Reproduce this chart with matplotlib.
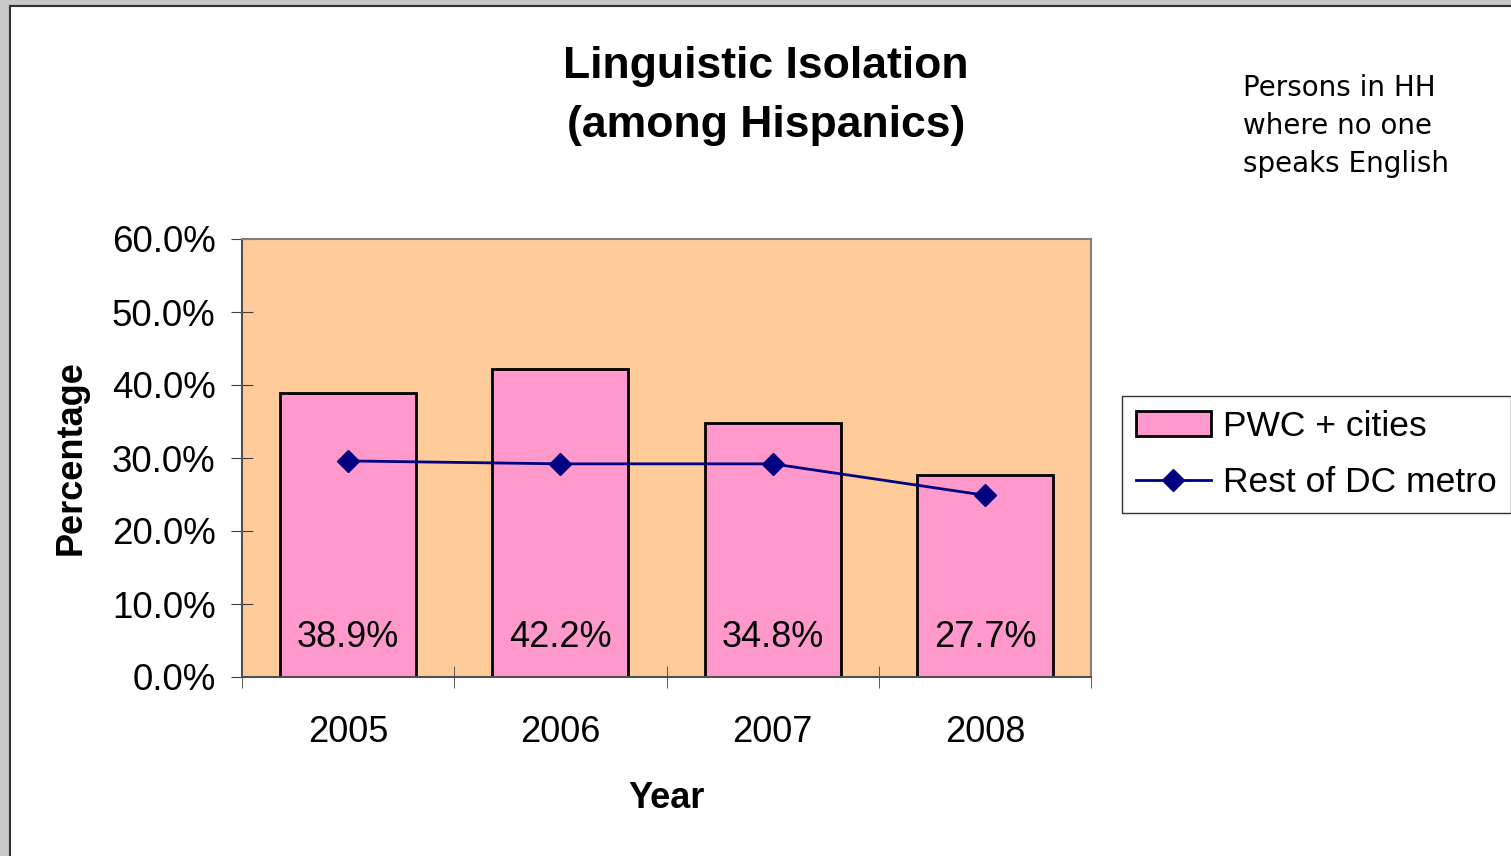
import matplotlib
matplotlib.use("Agg")
import matplotlib.pyplot as plt
from matplotlib.patches import Rectangle
from matplotlib.lines import Line2D
from matplotlib.ticker import FuncFormatter, FixedLocator

years = ["2005", "2006", "2007", "2008"]
pwc_cities = [38.9, 42.2, 34.8, 27.7]
rest_dc = [29.6, 29.2, 29.2, 24.9]
yticks = [0, 10, 20, 30, 40, 50, 60]

plt.rcParams['font.family'] = ['Liberation Sans', 'DejaVu Sans']

fig = plt.figure(figsize=(15.11, 8.56), dpi=100)
W, H = 1511, 856

# window frame (gray border top/left)
fig.patches.append(Rectangle((0, 0), 9 / W, 1, transform=fig.transFigure,
                             facecolor='#c8c8c8', edgecolor='none', zorder=0))
fig.patches.append(Rectangle((0, 1 - 5 / H), 1, 5 / H, transform=fig.transFigure,
                             facecolor='#c8c8c8', edgecolor='none', zorder=0))
fig.add_artist(Line2D([10 / W, 10 / W], [0, 1 - 6 / H], transform=fig.transFigure,
                      color='#333333', lw=1.5))
fig.add_artist(Line2D([10 / W, 1], [1 - 6 / H, 1 - 6 / H], transform=fig.transFigure,
                      color='#333333', lw=1.5))

ax = fig.add_axes([242 / W, 1 - 677 / H, (1091 - 242) / W, (677 - 239) / H])
ax.set_facecolor('#FFCC99')

x = list(range(len(years)))
bars = ax.bar(x, pwc_cities, width=0.64, color='#FF99CC', edgecolor='black',
              linewidth=2, label='PWC + cities', zorder=2)
line, = ax.plot(x, rest_dc, color='#000080', lw=2, marker='D', markersize=11,
                label='Rest of DC metro', zorder=3)

for i, v in enumerate(pwc_cities):
    ax.text(i, 5.4, "%.1f%%" % v, ha='center', va='center', fontsize=26, zorder=4)

ax.set_xlim(-0.5, len(years) - 0.5)
ax.set_ylim(0, 60)
ax.yaxis.set_major_locator(FixedLocator(yticks))
ax.yaxis.set_major_formatter(FuncFormatter(lambda v, p: "%.1f%%" % v))
ax.set_xticks(x)
ax.set_xticklabels(years)
ax.set_xticks([i - 0.5 for i in range(len(years) + 1)], minor=True)
ax.tick_params(axis='x', which='major', length=0, labelsize=26, pad=27)
ax.tick_params(axis='x', which='minor', length=16, direction='inout', color='#404040')
ax.tick_params(axis='y', length=16, direction='inout', labelsize=26.5, pad=11, color='#404040')
for s in ax.spines.values():
    s.set_color('#808080')
    s.set_linewidth(1.5)
ax.spines['left'].set_color('#505050')
ax.spines['bottom'].set_color('#505050')

ax.set_xlabel("Year", fontsize=26, fontweight='bold', labelpad=23)
ax.set_ylabel("Percentage", fontsize=26, fontweight='bold', labelpad=17)

fig.text(766 / W, 1 - 96 / H, "Linguistic Isolation\n(among Hispanics)", ha='center',
         va='center', fontsize=32, fontweight='bold', linespacing=1.55)
fig.text(1243 / W, 1 - 126 / H, "Persons in HH\nwhere no one\nspeaks English",
         ha='left', va='center', fontsize=20, family=['DejaVu Sans'], linespacing=1.45)

leg = ax.legend([bars, line], ['PWC + cities', 'Rest of DC metro'],
                loc='upper left', bbox_to_anchor=(1122 / W, 1 - 396 / H),
                bbox_transform=fig.transFigure, fontsize=25.5, frameon=True,
                fancybox=False, handlelength=2.1, handletextpad=0.35,
                borderpad=0.4, labelspacing=0.65, borderaxespad=0)
leg.get_frame().set_edgecolor('black')
leg.get_frame().set_linewidth(1)

fig.savefig("out.png", dpi=100)
